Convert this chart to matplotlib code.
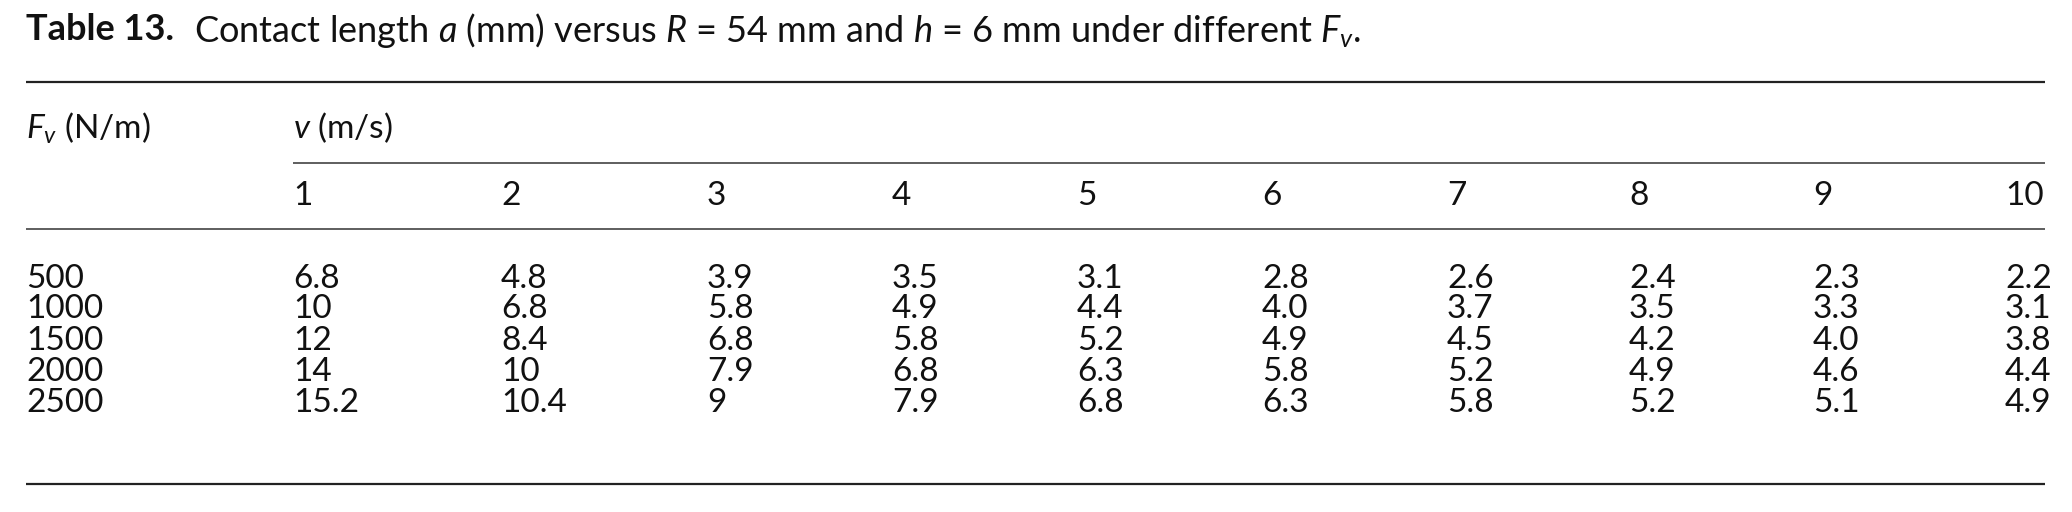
import matplotlib
matplotlib.use("Agg")
import matplotlib.pyplot as plt

# ---- data ----
title_bold = "Table 13."
title_rest = r"Contact length $a$ (mm) versus $R$ = 54 mm and $h$ = 6 mm under different $F_v$."
row_header = r"$F_v$ (N/m)"
col_group = r"$v$ (m/s)"
velocities = ["1", "2", "3", "4", "5", "6", "7", "8", "9", "10"]
forces = ["500", "1000", "1500", "2000", "2500"]
a_500 = ["6.8", "4.8", "3.9", "3.5", "3.1", "2.8", "2.6", "2.4", "2.3", "2.2"]
a_1000 = ["10", "6.8", "5.8", "4.9", "4.4", "4.0", "3.7", "3.5", "3.3", "3.1"]
a_1500 = ["12", "8.4", "6.8", "5.8", "5.2", "4.9", "4.5", "4.2", "4.0", "3.8"]
a_2000 = ["14", "10", "7.9", "6.8", "6.3", "5.8", "5.2", "4.9", "4.6", "4.4"]
a_2500 = ["15.2", "10.4", "9", "7.9", "6.8", "6.3", "5.8", "5.2", "5.1", "4.9"]
rows = [a_500, a_1000, a_1500, a_2000, a_2500]

# ---- style ----
FONT = "Lato"
plt.rcParams["font.family"] = [FONT, "DejaVu Sans"]
plt.rcParams["mathtext.fontset"] = "custom"
plt.rcParams["mathtext.rm"] = FONT
plt.rcParams["mathtext.it"] = FONT + ":italic"
plt.rcParams["mathtext.bf"] = FONT + ":bold"

W, H = 2072, 512
fig = plt.figure(figsize=(W / 100, H / 100), dpi=100)
ax = fig.add_axes([0, 0, 1, 1])
ax.set_xlim(0, W)
ax.set_ylim(H, 0)
ax.axis("off")

left, right = 26, 2045
col_x = [293, 501, 707, 892, 1077, 1262, 1447, 1629, 1813, 2005]
fs = 24
tcolor = "#111111"

# title
t = ax.text(left, 30, title_bold, fontsize=26, fontweight="bold", va="center", ha="left", color=tcolor)
fig.canvas.draw()
bb = t.get_window_extent()
ax.text(bb.x1 + 20, 30, title_rest, fontsize=26, va="center", ha="left", color=tcolor)

# rules
ax.plot([left, right], [82, 82], color="#222222", lw=1.6, solid_capstyle="butt")
ax.plot([col_x[0], right], [162.5, 162.5], color="#333333", lw=1.1, solid_capstyle="butt")
ax.plot([left, right], [228.5, 228.5], color="#333333", lw=1.1, solid_capstyle="butt")
ax.plot([left, right], [483.5, 483.5], color="#222222", lw=1.6, solid_capstyle="butt")

# header
ax.text(left, 128, row_header, fontsize=fs, va="center", ha="left", color=tcolor)
ax.text(col_x[0], 128, col_group, fontsize=fs, va="center", ha="left", color=tcolor)
for x, v in zip(col_x, velocities):
    ax.text(x, 196, v, fontsize=fs, va="center", ha="left", color=tcolor)

# body
row_y = [278.5, 309.5, 341, 372, 403]
for y, f, vals in zip(row_y, forces, rows):
    ax.text(left, y, f, fontsize=fs, va="center", ha="left", color=tcolor)
    for x, s in zip(col_x, vals):
        ax.text(x, y, s, fontsize=fs, va="center", ha="left", color=tcolor)

fig.savefig("out.png", dpi=100)
